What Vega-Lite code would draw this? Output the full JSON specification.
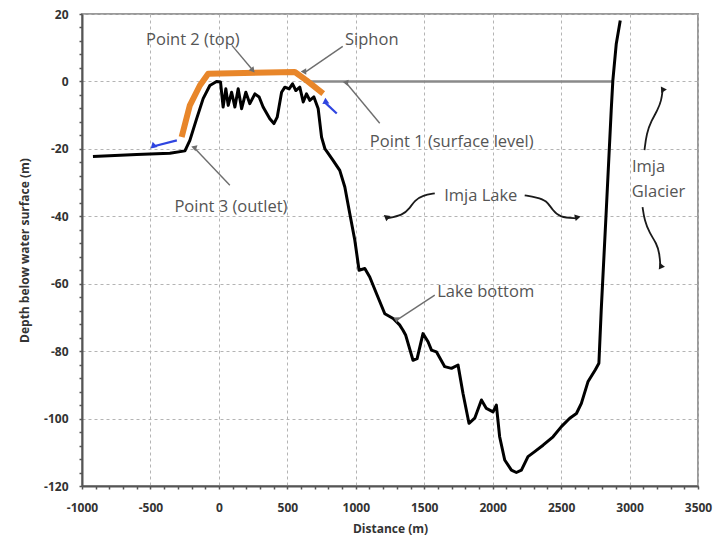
{
  "$schema": "https://vega.github.io/schema/vega-lite/v6.json",
  "width": 616,
  "height": 472,
  "autosize": "none",
  "padding": {"left": 82, "top": 14, "right": 21, "bottom": 58},
  "background": "white",
  "config": {
    "view": {"stroke": "#9a9a9a", "strokeWidth": 2},
    "font": "Open Sans"
  },
  "datasets": {
    "bottom": [
      {"x": -920, "y": -22.3}, {"x": -600, "y": -21.7}, {"x": -358, "y": -21.3}, {"x": -248, "y": -20.6},
      {"x": -212, "y": -17.5}, {"x": -163, "y": -11.1}, {"x": -115, "y": -5.1}, {"x": -66, "y": -1.2},
      {"x": -17, "y": 0}, {"x": 12, "y": -0.2}, {"x": 31, "y": -7.6}, {"x": 51, "y": -2.2},
      {"x": 68, "y": -7.1}, {"x": 93, "y": -3.2}, {"x": 117, "y": -7.6}, {"x": 141, "y": -2.2},
      {"x": 166, "y": -8.1}, {"x": 197, "y": -3.2}, {"x": 226, "y": -6.6}, {"x": 263, "y": -3.7},
      {"x": 294, "y": -4.6}, {"x": 323, "y": -7.6}, {"x": 372, "y": -11.1}, {"x": 402, "y": -12.5},
      {"x": 426, "y": -10.6}, {"x": 458, "y": -3.2}, {"x": 482, "y": -1.7}, {"x": 513, "y": -2.2},
      {"x": 538, "y": -0.7}, {"x": 562, "y": -2.7}, {"x": 591, "y": -1.7}, {"x": 616, "y": -6.1},
      {"x": 640, "y": -3.7}, {"x": 664, "y": -5.6}, {"x": 694, "y": -4.6}, {"x": 725, "y": -8},
      {"x": 750, "y": -16.5}, {"x": 774, "y": -19.9}, {"x": 834, "y": -23.4}, {"x": 883, "y": -26.4},
      {"x": 920, "y": -31.3}, {"x": 956, "y": -39.2}, {"x": 993, "y": -47.1}, {"x": 1024, "y": -56},
      {"x": 1066, "y": -55.5}, {"x": 1102, "y": -58}, {"x": 1151, "y": -62.9}, {"x": 1212, "y": -68.9},
      {"x": 1273, "y": -70.3}, {"x": 1320, "y": -72.2}, {"x": 1345, "y": -73.8}, {"x": 1365, "y": -75.3},
      {"x": 1418, "y": -82.7}, {"x": 1448, "y": -82.2}, {"x": 1491, "y": -74.8}, {"x": 1528, "y": -77.2},
      {"x": 1553, "y": -79.7}, {"x": 1589, "y": -80.2}, {"x": 1650, "y": -84.6}, {"x": 1699, "y": -85.1},
      {"x": 1747, "y": -84.1}, {"x": 1783, "y": -92.5}, {"x": 1827, "y": -101.4}, {"x": 1869, "y": -99.9},
      {"x": 1918, "y": -94.5}, {"x": 1954, "y": -97.0}, {"x": 2003, "y": -98.0}, {"x": 2027, "y": -96},
      {"x": 2051, "y": -105.4}, {"x": 2088, "y": -112.3}, {"x": 2137, "y": -115.3}, {"x": 2173, "y": -116.0},
      {"x": 2210, "y": -115.3}, {"x": 2258, "y": -111.3}, {"x": 2307, "y": -109.8}, {"x": 2368, "y": -107.9},
      {"x": 2441, "y": -105.4}, {"x": 2502, "y": -102.4}, {"x": 2563, "y": -99.9}, {"x": 2612, "y": -98.5},
      {"x": 2648, "y": -95.5}, {"x": 2696, "y": -89.1}, {"x": 2750, "y": -85.5}, {"x": 2776, "y": -83.6},
      {"x": 2793, "y": -67.9}, {"x": 2830, "y": -38.2}, {"x": 2866, "y": -8.6}, {"x": 2878, "y": 0.3},
      {"x": 2903, "y": 11.2}, {"x": 2932, "y": 18.1}
    ],
    "siphon": [
      {"x": -272, "y": -16.5}, {"x": -212, "y": -7.1}, {"x": -139, "y": -1.2}, {"x": -78, "y": 2.3},
      {"x": 555, "y": 2.8}, {"x": 640, "y": 0.3}, {"x": 762, "y": -3.6}
    ],
    "surface": [{"x": 620, "y": 0}, {"x": 2880, "y": 0}],
    "labels": [
      {"x": -190, "y": 12.4, "t": "Point 2 (top)"},
      {"x": 1117, "y": 12.4, "t": "Siphon"},
      {"x": 1701, "y": -18.1, "t": "Point 1 (surface level)"},
      {"x": 88, "y": -37.3, "t": "Point 3 (outlet)"},
      {"x": 1913, "y": -34.1, "t": "Imja Lake"},
      {"x": 1949, "y": -62.5, "t": "Lake bottom"},
      {"x": 3139, "y": -25.5, "t": "Imja"},
      {"x": 3212, "y": -32.9, "t": "Glacier"}
    ],
    "arrows": [
      {"name": "p2", "kind": "ptr", "o": 1, "x": 95, "y": 10.7}, {"name": "p2", "kind": "ptr", "o": 2, "x": 248, "y": 3.3},
      {"name": "siphon", "kind": "ptr", "o": 1, "x": 905, "y": 10.4}, {"name": "siphon", "kind": "ptr", "o": 2, "x": 628, "y": 2.7},
      {"name": "p1", "kind": "ptr", "o": 1, "x": 1175, "y": -12.4}, {"name": "p1", "kind": "ptr", "o": 2, "x": 934, "y": -0.6},
      {"name": "p3", "kind": "ptr", "o": 1, "x": 80, "y": -30.8}, {"name": "p3", "kind": "ptr", "o": 2, "x": -175, "y": -19.9},
      {"name": "lb", "kind": "ptr", "o": 1, "x": 1577, "y": -63.4}, {"name": "lb", "kind": "ptr", "o": 2, "x": 1299, "y": -70.8},
      {"name": "lakeL", "kind": "curl", "o": 1, "x": 1577, "y": -33.2}, {"name": "lakeL", "kind": "curl", "o": 2, "x": 1489, "y": -33.8},
      {"name": "lakeL", "kind": "curl", "o": 3, "x": 1431, "y": -35.3}, {"name": "lakeL", "kind": "curl", "o": 4, "x": 1394, "y": -37.6},
      {"name": "lakeL", "kind": "curl", "o": 5, "x": 1343, "y": -39.7}, {"name": "lakeL", "kind": "curl", "o": 6, "x": 1226, "y": -40.6},
      {"name": "lakeR", "kind": "curl", "o": 1, "x": 2234, "y": -33.8}, {"name": "lakeR", "kind": "curl", "o": 2, "x": 2321, "y": -34.4},
      {"name": "lakeR", "kind": "curl", "o": 3, "x": 2394, "y": -35.3}, {"name": "lakeR", "kind": "curl", "o": 4, "x": 2438, "y": -38.2},
      {"name": "lakeR", "kind": "curl", "o": 5, "x": 2489, "y": -40.3}, {"name": "lakeR", "kind": "curl", "o": 6, "x": 2613, "y": -40.6},
      {"name": "glUp", "kind": "curl", "o": 1, "x": 3109, "y": -20.4}, {"name": "glUp", "kind": "curl", "o": 2, "x": 3124, "y": -15.4},
      {"name": "glUp", "kind": "curl", "o": 3, "x": 3160, "y": -11.6}, {"name": "glUp", "kind": "curl", "o": 4, "x": 3204, "y": -8.6},
      {"name": "glUp", "kind": "curl", "o": 5, "x": 3233, "y": -5.6}, {"name": "glUp", "kind": "curl", "o": 6, "x": 3241, "y": -2.7},
      {"name": "glDn", "kind": "curl", "o": 1, "x": 3095, "y": -37.3}, {"name": "glDn", "kind": "curl", "o": 2, "x": 3109, "y": -41.2},
      {"name": "glDn", "kind": "curl", "o": 3, "x": 3146, "y": -45.0}, {"name": "glDn", "kind": "curl", "o": 4, "x": 3197, "y": -48.0},
      {"name": "glDn", "kind": "curl", "o": 5, "x": 3219, "y": -51.0}, {"name": "glDn", "kind": "curl", "o": 6, "x": 3226, "y": -55.1},
      {"name": "blueL", "kind": "blue", "o": 1, "x": -307, "y": -17.5}, {"name": "blueL", "kind": "blue", "o": 2, "x": -482, "y": -19.3},
      {"name": "blueR", "kind": "blue", "o": 1, "x": 861, "y": -9.5}, {"name": "blueR", "kind": "blue", "o": 2, "x": 774, "y": -6.2}
    ],
    "heads": [
      {"name": "p2", "kind": "ptr", "x": 248, "y": 3.3},
      {"name": "siphon", "kind": "ptr", "x": 628, "y": 2.7},
      {"name": "p1", "kind": "ptr", "x": 934, "y": -0.6},
      {"name": "p3", "kind": "ptr", "x": -175, "y": -19.9},
      {"name": "lb", "kind": "ptr", "x": 1299, "y": -70.8},
      {"name": "lakeL", "kind": "curl", "x": 1226, "y": -40.6},
      {"name": "lakeR", "kind": "curl", "x": 2613, "y": -40.6},
      {"name": "glUp", "kind": "curl", "x": 3241, "y": -2.7},
      {"name": "glDn", "kind": "curl", "x": 3226, "y": -55.1},
      {"name": "blueL", "kind": "blue", "x": -482, "y": -19.3},
      {"name": "blueR", "kind": "blue", "x": 774, "y": -6.2}
    ]
  },
  "layer": [
    {
      "data": {"name": "surface"},
      "mark": {"type": "line", "color": "#8a8a8a", "strokeWidth": 2.5},
      "encoding": {
        "x": {
          "field": "x", "type": "quantitative",
          "scale": {"domain": [-1000, 3500], "nice": false, "zero": false},
          "axis": {
            "title": "Distance (m)",
            "values": [-1000, -900, -800, -700, -600, -500, -400, -300, -200, -100, 0, 100, 200, 300, 400, 500, 600, 700, 800, 900, 1000, 1100, 1200, 1300, 1400, 1500, 1600, 1700, 1800, 1900, 2000, 2100, 2200, 2300, 2400, 2500, 2600, 2700, 2800, 2900, 3000, 3100, 3200, 3300, 3400, 3500],
            "tickCount": 1000,
            "labelExpr": "datum.value % 500 === 0 ? '' + datum.value : ''",
            "labelOverlap": false,
            "grid": true, "gridDash": [3, 3], "gridColor": "#b4b4b4", "gridWidth": 1,
            "gridOpacity": {"condition": {"test": "datum.value % 500 === 0", "value": 1}, "value": 0},
            "ticks": true, "tickSize": 3, "tickColor": "#555555", "tickWidth": 1.5,
            "encode": {"ticks": {"update": {"y": {"value": -3}}}},
            "domainColor": "#555555", "domainWidth": 2,
            "labelFont": "Open Sans", "labelFontWeight": "bold", "labelFontSize": 12, "labelColor": "#333333",
            "labelPadding": 13, "labelFlush": false,
            "titleFont": "Open Sans", "titleFontSize": 12, "titleFontWeight": "bold", "titleColor": "#333333", "titlePadding": 10
          }
        },
        "y": {
          "field": "y", "type": "quantitative",
          "scale": {"domain": [-120, 20], "nice": false, "zero": false},
          "axis": {
            "title": "Depth below water surface (m)",
            "values": [-120, -116, -112, -108, -104, -100, -96, -92, -88, -84, -80, -76, -72, -68, -64, -60, -56, -52, -48, -44, -40, -36, -32, -28, -24, -20, -16, -12, -8, -4, 0, 4, 8, 12, 16, 20],
            "tickCount": 1000,
            "labelExpr": "datum.value % 20 === 0 ? '' + datum.value : ''",
            "labelOverlap": false,
            "grid": true, "gridDash": [3, 3], "gridColor": "#b4b4b4", "gridWidth": 1,
            "gridOpacity": {"condition": {"test": "datum.value % 20 === 0", "value": 1}, "value": 0},
            "ticks": true, "tickSize": 3, "tickColor": "#555555", "tickWidth": 1.5,
            "encode": {"ticks": {"update": {"x": {"value": 3}}}},
            "domainColor": "#555555", "domainWidth": 2,
            "labelFont": "Open Sans", "labelFontWeight": "bold", "labelFontSize": 12, "labelColor": "#333333",
            "labelPadding": 11, "labelFlush": false,
            "titleFont": "Open Sans", "titleFontSize": 12, "titleFontWeight": "bold", "titleColor": "#333333", "titlePadding": 12
          }
        }
      }
    },
    {
      "data": {"name": "bottom"},
      "mark": {"type": "line", "color": "#000000", "strokeWidth": 3, "strokeJoin": "round"},
      "encoding": {"x": {"field": "x", "type": "quantitative"}, "y": {"field": "y", "type": "quantitative"}}
    },
    {
      "data": {"name": "siphon"},
      "mark": {"type": "line", "color": "#E8862A", "strokeWidth": 6, "strokeJoin": "round"},
      "encoding": {"x": {"field": "x", "type": "quantitative"}, "y": {"field": "y", "type": "quantitative"}}
    },
    {
      "data": {"name": "arrows"},
      "mark": {"type": "line", "interpolate": "basis"},
      "encoding": {
        "x": {"field": "x", "type": "quantitative"},
        "y": {"field": "y", "type": "quantitative"},
        "detail": {"field": "name"},
        "order": {"field": "o"},
        "color": {"field": "kind", "type": "nominal", "scale": {"domain": ["ptr", "curl", "blue"], "range": ["#6e6e6e", "#1a1a1a", "#2f45e0"]}, "legend": null},
        "strokeWidth": {"field": "kind", "type": "nominal", "scale": {"domain": ["ptr", "curl", "blue"], "range": [1.4, 2.2, 2.6]}, "legend": null}
      }
    },
    {
      "data": {"name": "heads"},
      "mark": {"type": "point", "shape": "triangle-up", "filled": true, "opacity": 1},
      "encoding": {
        "x": {"field": "x", "type": "quantitative"},
        "y": {"field": "y", "type": "quantitative"},
        "color": {"field": "kind", "type": "nominal", "scale": {"domain": ["ptr", "curl", "blue"], "range": ["#6e6e6e", "#1a1a1a", "#2f45e0"]}, "legend": null},
        "size": {"field": "kind", "type": "nominal", "scale": {"domain": ["ptr", "curl", "blue"], "range": [40, 50, 50]}, "legend": null},
        "angle": {"field": "name", "type": "nominal", "scale": {"domain": ["p2", "siphon", "p1", "p3", "lb", "lakeL", "lakeR", "glUp", "glDn", "blueL", "blueR"], "range": [140, 235.6, 320.5, 316.6, 236.7, 259.4, 93.4, 5.7, 176, 256, 312.5]}, "legend": null}
      }
    },
    {
      "data": {"name": "labels"},
      "mark": {"type": "text", "font": "Open Sans", "fontSize": 16.5, "color": "#555555", "align": "center", "baseline": "middle"},
      "encoding": {
        "x": {"field": "x", "type": "quantitative"},
        "y": {"field": "y", "type": "quantitative"},
        "text": {"field": "t"}
      }
    }
  ]
}
